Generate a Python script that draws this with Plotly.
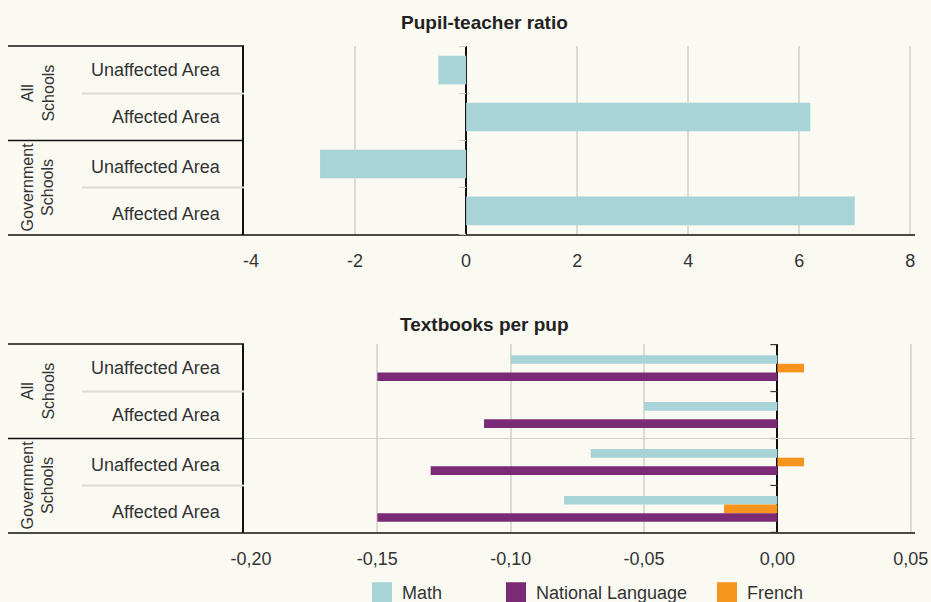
import plotly.graph_objects as go

# ---- data ----
groups = ["All<br>Schools", "Government<br>Schools"]
row_keys = ["All|Unaffected", "All|Affected", "Gov|Unaffected", "Gov|Affected"]
row_labels = ["Unaffected Area", "Affected Area", "Unaffected Area", "Affected Area"]

pupil_teacher = [-0.5, 6.2, -2.63, 7.0]

math = [-0.10, -0.05, -0.07, -0.08]
national_language = [-0.15, -0.11, -0.13, -0.15]
french = [0.01, 0.0, 0.01, -0.02]

series_names = ["Math", "National Language", "French"]

top_ticks = [-4, -2, 0, 2, 4, 6, 8]
top_tick_labels = ["\u2002\u00a0-4", "-2", "0", "2", "4", "6", "8"]
bot_ticks = [-0.20, -0.15, -0.10, -0.05, 0.00, 0.05]
bot_tick_labels = ["\u2002\u00a0-0,20", "-0,15", "-0,10", "-0,05", "0,00", "0,05"]

top_title = "Pupil-teacher ratio"
bot_title = "Textbooks per pup"

# ---- style ----
W, H = 931, 602
BG = "#fafaf3"
C_MATH = "#a8d4d8"
C_NL = "#7b2b75"
C_FR = "#f7941e"
TXT = "#333333"
GRID = "#dcdcd6"
FONT = "Liberation Sans, Arial, sans-serif"

XD = [244 / W, 915 / W]
Y1D = [1 - 235 / H, 1 - 46 / H]
Y2D = [1 - 533 / H, 1 - 344 / H]

fig = go.Figure()

fig.add_trace(go.Bar(y=row_keys, x=pupil_teacher, orientation="h", marker=dict(color=C_MATH, line=dict(width=0)),
                     width=0.61, xaxis="x", yaxis="y", showlegend=False, name=top_title))

fig.add_trace(go.Bar(y=row_keys, x=math, orientation="h", name=series_names[0], showlegend=False,
                     marker=dict(color=C_MATH, line=dict(width=0)), xaxis="x2", yaxis="y2"))
fig.add_trace(go.Bar(y=row_keys, x=french, orientation="h", name=series_names[2], showlegend=False,
                     marker=dict(color=C_FR, line=dict(width=0)), xaxis="x2", yaxis="y2"))
fig.add_trace(go.Bar(y=row_keys, x=national_language, orientation="h", name=series_names[1], showlegend=False,
                     marker=dict(color=C_NL, line=dict(width=0)), xaxis="x2", yaxis="y2"))

# legend entries (large square swatches), one legend per entry so each can be placed
legend_ids = ["legend", "legend2", "legend3"]
legend_colors = [C_MATH, C_NL, C_FR]
legend_x = [362, 496, 707]
for nm, col, lid in zip(series_names, legend_colors, legend_ids):
    fig.add_trace(go.Scatter(x=[None], y=[None], mode="markers", name=nm, legend=lid,
                             marker=dict(symbol="square", size=16, color=col, line=dict(color=col, width=4)),
                             xaxis="x2", yaxis="y2", hoverinfo="skip"))

xcommon = dict(domain=XD, showgrid=True, gridcolor=GRID, gridwidth=1.5, zeroline=True,
               zerolinecolor="#111111", zerolinewidth=1.5, showline=False, ticks="outside",
               ticklen=9, tickcolor="rgba(0,0,0,0)", tickfont=dict(size=18, color=TXT, family=FONT),
               fixedrange=True, automargin=False)
ycommon = dict(type="category", categoryorder="array", categoryarray=row_keys, autorange="reversed",
               showticklabels=False, showgrid=False, zeroline=False, showline=True,
               linecolor="#111111", linewidth=1.5, ticks="", fixedrange=True, automargin=False)

fig.update_layout(
    xaxis=dict(xcommon, anchor="y", range=[-4, 8.085], tickvals=top_ticks, ticktext=top_tick_labels),
    yaxis=dict(ycommon, domain=Y1D, anchor="x"),
    xaxis2=dict(xcommon, anchor="y2", range=[-0.20, 0.0516], tickvals=bot_ticks, ticktext=bot_tick_labels),
    yaxis2=dict(ycommon, domain=Y2D, anchor="x2"),
)

shapes = []
annotations = []
L0, LC, LR, RR = 8 / W, 82 / W, 244 / W, 915 / W
for yr, xr, tickc in [("y", "x", "#cfcfcf"), ("y2", "x2", "#333333")]:
    shapes.append(dict(type="line", xref="paper", yref=yr + " domain", x0=L0, x1=RR, y0=0, y1=0,
                       line=dict(color="#111111", width=1.5)))
    shapes.append(dict(type="line", xref="paper", yref=yr + " domain", x0=L0, x1=LR, y0=1, y1=1,
                       line=dict(color="#111111", width=1.5)))
    shapes.append(dict(type="line", xref="paper", yref=yr, x0=L0, x1=LR, y0=1.5, y1=1.5,
                       line=dict(color="#111111", width=1.5)))
    for b in [0.5, 2.5]:
        shapes.append(dict(type="line", xref="paper", yref=yr, x0=LC, x1=LR, y0=b, y1=b,
                           line=dict(color="#dcdcd6", width=2)))
    for b in [-0.5, 0.5, 1.5, 2.5, 3.5]:
        shapes.append(dict(type="line", xref=xr, yref=yr, xsizemode="pixel", xanchor=0, x0=-7, x1=0,
                           y0=b, y1=b, line=dict(color=tickc, width=1.2)))
    for i, (key, lab) in enumerate(zip(row_keys, row_labels)):
        annotations.append(dict(xref="paper", yref=yr, x=223 / W, y=key, xanchor="right", yanchor="middle",
                                yshift=-3 if i >= 2 else 0,
                                text=lab, showarrow=False, font=dict(size=18, color=TXT, family=FONT)))
    for gi, g in enumerate(groups):
        annotations.append(dict(xref="paper", yref=yr, x=38 / W, y=0.5 + 2 * gi, xanchor="center",
                                yanchor="middle", text=g, textangle=-90, showarrow=False,
                                font=dict(size=16, color=TXT, family=FONT)))

shapes.append(dict(type="line", xref="x2 domain", yref="y2", x0=0, x1=1, y0=1.5, y1=1.5,
                   line=dict(color="#d0d0ca", width=1)))

annotations.append(dict(xref="paper", yref="paper", x=484 / W, y=1 - 23 / H, xanchor="center", yanchor="middle",
                        text="<b>" + top_title + "</b>", showarrow=False,
                        font=dict(size=19, color="#222222", family=FONT)))
annotations.append(dict(xref="paper", yref="paper", x=484 / W, y=1 - 324 / H, xanchor="center", yanchor="middle",
                        text="<b>" + bot_title + "</b>", showarrow=False,
                        font=dict(size=19, color="#222222", family=FONT)))

leg_common = dict(orientation="h", xanchor="left", xref="container", yref="container",
                  y=1 - 574 / H, yanchor="top",
                  font=dict(size=18, color=TXT, family=FONT), bgcolor="rgba(0,0,0,0)",
                  itemclick=False, itemdoubleclick=False, itemsizing="trace")

fig.update_layout(
    width=W, height=H, paper_bgcolor=BG, plot_bgcolor=BG,
    margin=dict(l=0, r=0, t=0, b=0, autoexpand=False),
    barmode="group", bargap=0.45, bargroupgap=0,
    font=dict(family=FONT, color=TXT),
    shapes=shapes, annotations=annotations,
    legend=dict(leg_common, x=legend_x[0] / W),
    legend2=dict(leg_common, x=legend_x[1] / W),
    legend3=dict(leg_common, x=legend_x[2] / W),
)

fig.write_html("out.html", config={"displayModeBar": False},
               post_script="document.body.style.margin='0';document.body.style.overflow='hidden';"
               "document.body.style.background='" + BG + "';")
